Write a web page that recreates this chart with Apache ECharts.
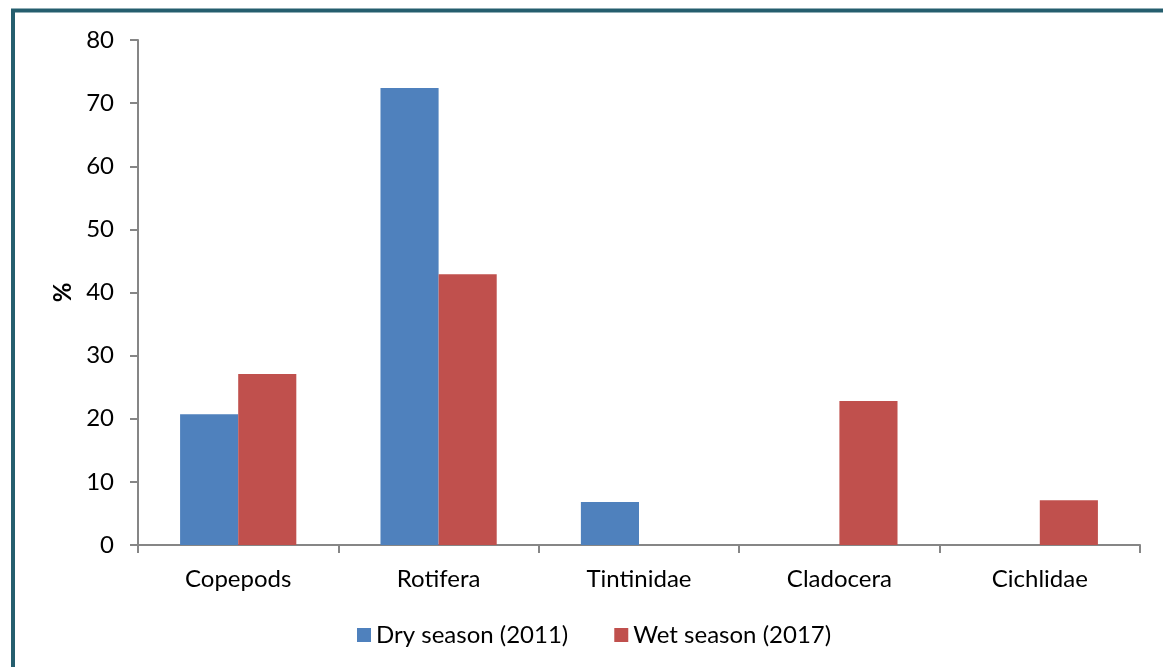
<!DOCTYPE html>
<html><head><meta charset="utf-8">
<script src="https://cdn.jsdelivr.net/npm/echarts@6/dist/echarts.min.js"></script>
<style>html,body{margin:0;padding:0;background:#fff}#c{width:1163px;height:667px}</style>
</head><body><div id="c"></div>
<script>
const categories = ['Copepods', 'Rotifera', 'Tintinidae', 'Cladocera', 'Cichlidae'];
const drySeason = [20.7, 72.4, 6.8, 0, 0];
const wetSeason = [27.1, 42.9, 0, 22.8, 7.1];
const seriesNames = ['Dry season (2011)', 'Wet season (2017)'];

const chart = echarts.init(document.getElementById('c'));
const font = 'Lato, "Open Sans", sans-serif';
chart.setOption({
  animation: false,
  backgroundColor: '#fff',
  graphic: [{
    type: 'polyline',
    shape: { points: [[13, 700], [13, 10.5], [1200, 10.5]] },
    style: { stroke: '#255E6E', lineWidth: 4, fill: null }
  }],
  grid: { left: 138, right: 23, top: 40, bottom: 122 },
  legend: {
    bottom: 15, left: 352,
    itemWidth: 14, itemHeight: 14, itemGap: 46,
    icon: 'rect',
    textStyle: { fontFamily: font, fontSize: 24, color: '#000' },
    data: seriesNames
  },
  xAxis: {
    type: 'category', data: categories,
    axisLine: { lineStyle: { color: '#868686', width: 2 } },
    axisTick: { show: true, length: 8, lineStyle: { color: '#868686', width: 2 } },
    axisLabel: { fontFamily: font, fontSize: 24, color: '#000', margin: 22 }
  },
  yAxis: {
    type: 'value', min: 0, max: 80, interval: 10,
    name: '%', nameLocation: 'middle', nameGap: 63, nameRotate: 90,
    nameTextStyle: { fontFamily: font, fontSize: 24, fontWeight: 'bold', color: '#000' },
    splitLine: { show: false },
    axisLine: { show: true, lineStyle: { color: '#868686', width: 2 } },
    axisTick: { show: true, length: 8, lineStyle: { color: '#868686', width: 2 } },
    axisLabel: { fontFamily: font, fontSize: 24, color: '#000', margin: 24 }
  },
  series: [
    { name: seriesNames[0], type: 'bar', data: drySeason, barGap: '0%', barCategoryGap: '42%',
      itemStyle: { color: '#4F81BD' } },
    { name: seriesNames[1], type: 'bar', data: wetSeason, barGap: '0%', barCategoryGap: '42%',
      itemStyle: { color: '#C0504D' } }
  ]
});
</script></body></html>
